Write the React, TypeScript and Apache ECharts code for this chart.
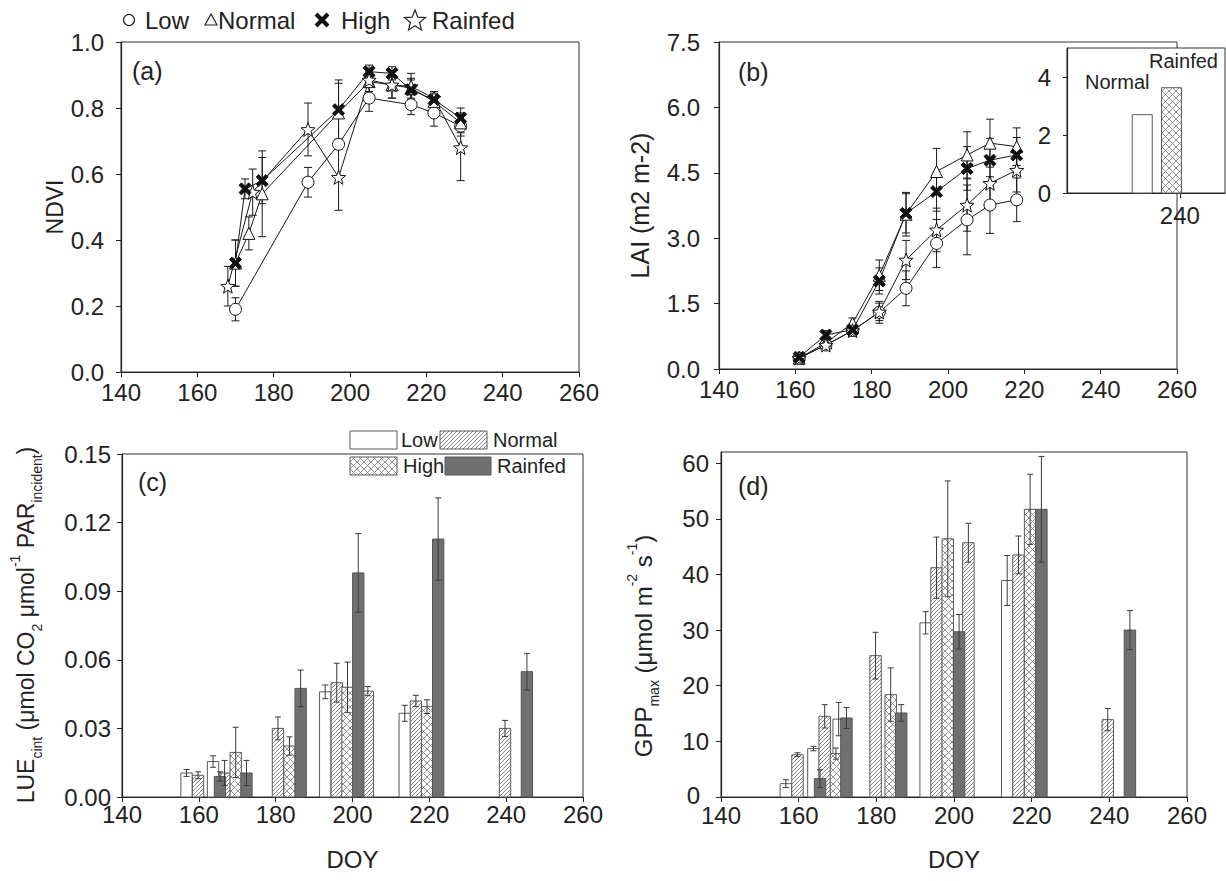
import React, { useEffect, useRef } from "react";
import * as echarts from "echarts";

const FONT = "'Liberation Sans', Arial, Helvetica, sans-serif";

// ---------- Panel (a) NDVI ----------
const ndviLowDoy = [170, 189, 197, 205, 216, 222, 229];
const ndviLow = [0.19, 0.575, 0.69, 0.83, 0.81, 0.785, 0.745];
const ndviLowErr = [0.035, 0.045, 0.015, 0.04, 0.03, 0.04, 0.03];
const ndviNormalDoy = [170, 173.5, 177, 197, 205, 211, 216, 222, 229];
const ndviNormal = [0.33, 0.42, 0.54, 0.785, 0.88, 0.87, 0.86, 0.82, 0.755];
const ndviNormalErr = [0.07, 0.05, 0.13, 0.09, 0.03, 0.04, 0.03, 0.02, 0.03];
const ndviHighDoy = [170, 172.5, 177, 197, 205, 211, 216, 222, 229];
const ndviHigh = [0.33, 0.555, 0.58, 0.795, 0.91, 0.905, 0.855, 0.825, 0.77];
const ndviHighErr = [0.07, 0.03, 0.07, 0.09, 0.02, 0.02, 0.03, 0.02, 0.03];
const ndviRainDoy = [168, 174.5, 189, 197, 205, 211, 216, 222, 229];
const ndviRain = [0.26, 0.545, 0.735, 0.59, 0.885, 0.87, 0.865, 0.83, 0.68];
const ndviRainErr = [0.06, 0.07, 0.08, 0.1, 0.02, 0.04, 0.04, 0.02, 0.1];

// ---------- Panel (b) LAI ----------
const laiDoy = [161, 168, 175, 182, 189, 197, 205, 211, 218];
const laiLow = [0.25, 0.55, 0.88, 1.3, 1.85, 2.88, 3.42, 3.76, 3.88];
const laiLowErr = [0.05, 0.08, 0.1, 0.25, 0.4, 0.55, 0.8, 0.65, 0.5];
const laiNormal = [0.25, 0.6, 1.05, 2.15, 3.55, 4.53, 4.91, 5.18, 5.1];
const laiNormalErr = [0.05, 0.1, 0.12, 0.35, 0.5, 0.53, 0.53, 0.55, 0.43];
const laiHigh = [0.27, 0.78, 0.9, 2.02, 3.57, 4.07, 4.6, 4.79, 4.91];
const laiHighErr = [0.05, 0.1, 0.1, 0.3, 0.45, 0.45, 0.5, 0.5, 0.4];
const laiRain = [0.25, 0.55, 0.88, 1.31, 2.5, 3.19, 3.76, 4.26, 4.56];
const laiRainErr = [0.05, 0.08, 0.1, 0.2, 0.45, 0.5, 0.6, 0.55, 0.5];

// inset of (b)
const insetNames = ["Normal", "Rainfed"];
const insetDoy = [235.0, 238.9];
const insetLai = [2.7, 3.63];

// ---------- Panel (c) LUE ----------
const lueLowDoy = [156.8, 163.7, 192.9, 213.6];
const lueLow = [0.0105, 0.0155, 0.046, 0.0366];
const lueLowErr = [0.0015, 0.0025, 0.003, 0.0035];
const lueNormalDoy = [159.8, 166.7, 180.6, 195.9, 204.0, 216.5, 239.7];
const lueNormal = [0.0095, 0.0105, 0.03, 0.05, 0.0463, 0.042, 0.03];
const lueNormalErr = [0.0015, 0.0055, 0.005, 0.0085, 0.002, 0.0025, 0.0035];
const lueHighDoy = [169.6, 183.6, 198.7, 219.4];
const lueHigh = [0.0195, 0.0223, 0.048, 0.0395];
const lueHighErr = [0.011, 0.004, 0.011, 0.003];
const lueRainDoy = [165.5, 172.4, 186.5, 201.5, 222.3, 245.4];
const lueRain = [0.009, 0.0105, 0.0475, 0.098, 0.1128, 0.0548];
const lueRainErr = [0.002, 0.0055, 0.008, 0.0172, 0.018, 0.008];

// ---------- Panel (d) GPPmax ----------
const gppLowDoy = [156.7, 163.8, 170.3, 192.7, 213.7];
const gppLow = [2.4, 8.7, 14.0, 31.3, 38.9];
const gppLowErr = [0.7, 0.4, 3.0, 2.0, 4.5];
const gppNormalDoy = [159.7, 166.7, 179.8, 195.5, 203.7, 216.6, 239.6];
const gppNormal = [7.6, 14.5, 25.4, 41.2, 45.7, 43.5, 13.9];
const gppNormalErr = [0.35, 2.1, 4.2, 5.5, 3.5, 3.4, 2.0];
const gppHighDoy = [169.6, 183.7, 198.4, 219.6];
const gppHigh = [7.8, 18.4, 46.4, 51.7];
const gppHighErr = [1.0, 4.8, 10.4, 6.3];
const gppRainDoy = [165.5, 172.3, 186.4, 201.3, 222.5, 245.3];
const gppRain = [3.3, 14.2, 15.1, 29.7, 51.7, 30.0];
const gppRainErr = [1.6, 1.9, 1.5, 3.1, 9.5, 3.5];

const doyTicks = [140, 160, 180, 200, 220, 240, 260];
const gppTicks = [0, 10, 20, 30, 40, 50, 60];
const insetTicks = [0, 2, 4];

const SYM_X =
  "path://M2,0 L5,3 L8,0 L10,2 L7,5 L10,8 L8,10 L5,7 L2,10 L0,8 L3,5 L0,2 Z";
const SYM_STAR =
  "path://M10,0 L12.47,6.6 L19.51,6.91 L13.99,11.3 L15.88,18.09 L10,14.2 L4.12,18.09 L6.01,11.3 L0.49,6.91 L7.53,6.6 Z";

function hatchLines(x0: number, y0: number, x1: number, y1: number, s: number, dir: number, color: string, lw: number) {
  const out: any[] = [];
  if (dir > 0) {
    const cStart = Math.ceil((x0 + y0) / s) * s;
    for (let c = cStart; c <= x1 + y1; c += s) {
      const xa = Math.max(x0, c - y1);
      const xb = Math.min(x1, c - y0);
      if (xb > xa)
        out.push({ type: "line", silent: true, shape: { x1: xa, y1: c - xa, x2: xb, y2: c - xb }, style: { stroke: color, lineWidth: lw } });
    }
  } else {
    const cStart = Math.ceil((x0 - y1) / s) * s;
    for (let c = cStart; c <= x1 - y0; c += s) {
      const xa = Math.max(x0, c + y0);
      const xb = Math.min(x1, c + y1);
      if (xb > xa)
        out.push({ type: "line", silent: true, shape: { x1: xa, y1: xa - c, x2: xb, y2: xb - c }, style: { stroke: color, lineWidth: lw } });
    }
  }
  return out;
}

function barShape(x0: number, y0: number, x1: number, y1: number, kind: string) {
  const children: any[] = [];
  const fill = kind === "rain" ? "#707070" : "#ffffff";
  children.push({ type: "rect", shape: { x: x0, y: y0, width: x1 - x0, height: y1 - y0 }, style: { fill, stroke: "none" } });
  if (kind === "normal") children.push(...hatchLines(x0, y0, x1, y1, 4, 1, "#6a6a6a", 0.8));
  if (kind === "high") {
    children.push(...hatchLines(x0, y0, x1, y1, 7, 1, "#777", 0.8));
    children.push(...hatchLines(x0, y0, x1, y1, 7, -1, "#777", 0.8));
  }
  children.push({
    type: "rect",
    shape: { x: x0, y: y0, width: x1 - x0, height: y1 - y0 },
    style: { fill: "none", stroke: kind === "rain" ? "#555" : "#5a5a5a", lineWidth: 1 },
  });
  return { type: "group", children };
}

function barSeries(gi: number, xs: number[], vs: number[], kind: string, w: number) {
  return {
    type: "custom",
    xAxisIndex: gi,
    yAxisIndex: gi,
    z: 2,
    encode: { x: 0, y: 1 },
    data: xs.map((x, i) => [x, vs[i]]),
    renderItem: (_p: any, api: any) => {
      const x = api.value(0);
      const v = api.value(1);
      const a = api.coord([x - w / 2, v]);
      const b = api.coord([x + w / 2, 0]);
      return barShape(a[0], a[1], b[0], b[1], kind);
    },
  };
}

function errSeries(gi: number, xs: number[], vs: number[], es: number[], cap: number, color: string, z: number) {
  return {
    type: "custom",
    xAxisIndex: gi,
    yAxisIndex: gi,
    z,
    encode: { x: 0, y: 1 },
    data: xs.map((x, i) => [x, vs[i], es[i]]),
    renderItem: (_p: any, api: any) => {
      const x = api.value(0);
      const y = api.value(1);
      const e = api.value(2);
      const t = api.coord([x, y + e]);
      const b = api.coord([x, y - e]);
      const st = { stroke: color, lineWidth: 1 };
      return {
        type: "group",
        children: [
          { type: "line", shape: { x1: t[0], y1: t[1], x2: b[0], y2: b[1] }, style: st },
          { type: "line", shape: { x1: t[0] - cap, y1: t[1], x2: t[0] + cap, y2: t[1] }, style: st },
          { type: "line", shape: { x1: b[0] - cap, y1: b[1], x2: b[0] + cap, y2: b[1] }, style: st },
        ],
      };
    },
  };
}

function lineSeries(gi: number, name: string, xs: number[], ys: number[], symbol: string, size: number, filled: boolean) {
  return {
    type: "line",
    name,
    xAxisIndex: gi,
    yAxisIndex: gi,
    z: 4,
    data: xs.map((x, i) => [x, ys[i]]),
    symbol,
    symbolSize: size,
    showSymbol: true,
    lineStyle: { color: "#1a1a1a", width: 1 },
    itemStyle: { color: filled ? "#111" : "#fff", borderColor: "#111", borderWidth: 1 },
  };
}

const labelStyle = { fontSize: 24, color: "#222", fontFamily: FONT };

function xAxisCfg(gi: number, margin: number, name?: string, lineHeight?: number) {
  return {
    type: "value",
    gridIndex: gi,
    min: 140,
    max: 260,
    interval: 20,
    name: name || "",
    nameLocation: "middle",
    nameGap: 50,
    nameTextStyle: { fontSize: 24, color: "#222", fontFamily: FONT },
    axisLine: { show: true, onZero: false, lineStyle: { color: "#222", width: 1.2 } },
    axisTick: { show: true, inside: false, length: 5, lineStyle: { color: "#222" } },
    axisLabel: lineHeight
      ? { ...labelStyle, margin, customValues: doyTicks, lineHeight }
      : { ...labelStyle, margin, customValues: doyTicks },
    splitLine: { show: false },
  };
}

function yAxisCfg(gi: number, min: number, max: number, interval: number, digits: number, margin: number, name?: string, nameGap?: number, nameSize?: number) {
  return {
    type: "value",
    gridIndex: gi,
    min,
    max,
    interval,
    name: name || "",
    nameLocation: "middle",
    nameGap: nameGap || 40,
    nameTextStyle: { fontSize: nameSize || 23, color: "#222", fontFamily: FONT },
    axisLine: { show: true, onZero: false, lineStyle: { color: "#222", width: 1.2 } },
    axisTick: { show: true, inside: false, length: 5, lineStyle: { color: "#222" } },
    axisLabel: { ...labelStyle, margin, formatter: (v: number) => v.toFixed(digits) },
    splitLine: { show: false },
  };
}

function buildOption() {
  const gridBase = { show: true, borderColor: "#333", borderWidth: 1, backgroundColor: "transparent", containLabel: false };
  const grids = [
    { ...gridBase, left: 121, top: 42, width: 458, height: 330 },
    { ...gridBase, left: 719, top: 42, width: 458, height: 327 },
    { ...gridBase, left: 122, top: 454, width: 461, height: 343 },
    { ...gridBase, left: 721, top: 452, width: 466, height: 345 },
    { ...gridBase, left: 1067, top: 48, width: 158, height: 145, backgroundColor: "#ffffff" },
  ];

  const yC: any = yAxisCfg(2, 0, 0.15, 0.03, 2, 11);
  yC.axisLabel = { ...yC.axisLabel, lineHeight: 12 };

  const yD: any = yAxisCfg(3, 0, 62, 10, 0, 12);
  yD.axisLabel = {
    ...labelStyle,
    margin: 12,
    lineHeight: 12,
    showMaxLabel: false,
    formatter: (v: number) => (v === 0 ? "{z|0}" : String(Math.round(v))),
    rich: { z: { fontSize: 24, color: "#222", fontFamily: FONT, padding: [0, 9, 4, 0] } },
  };
  yD.axisTick = { show: true, inside: false, length: 5, lineStyle: { color: "#222" }, customValues: gppTicks };

  const xInset = {
    type: "value",
    gridIndex: 4,
    min: 225,
    max: 246,
    axisLine: { show: true, onZero: false, lineStyle: { color: "#222", width: 1.2 } },
    axisTick: { show: true, inside: false, length: 5, lineStyle: { color: "#222" }, customValues: [240] },
    axisLabel: { ...labelStyle, margin: 10, customValues: [240] },
    splitLine: { show: false },
  };
  const yInset = {
    type: "value",
    gridIndex: 4,
    min: 0,
    max: 5,
    axisLine: { show: true, onZero: false, lineStyle: { color: "#222", width: 1.2 } },
    axisTick: { show: true, inside: false, length: 4, lineStyle: { color: "#222" }, customValues: insetTicks },
    axisLabel: { ...labelStyle, margin: 16, customValues: insetTicks },
    splitLine: { show: false },
  };

  const errColA = "#1a1a1a";
  const errColBar = "#3a3a3a";
  const series: any[] = [
    // (a)
    errSeries(0, ndviLowDoy, ndviLow, ndviLowErr, 4, errColA, 2),
    errSeries(0, ndviNormalDoy, ndviNormal, ndviNormalErr, 4, errColA, 2),
    errSeries(0, ndviHighDoy, ndviHigh, ndviHighErr, 4, errColA, 2),
    errSeries(0, ndviRainDoy, ndviRain, ndviRainErr, 4, errColA, 2),
    lineSeries(0, "Low", ndviLowDoy, ndviLow, "circle", 12, false),
    lineSeries(0, "Normal", ndviNormalDoy, ndviNormal, "triangle", 12, false),
    lineSeries(0, "Rainfed", ndviRainDoy, ndviRain, SYM_STAR, 14, false),
    lineSeries(0, "High", ndviHighDoy, ndviHigh, SYM_X, 12, true),
    // (b)
    errSeries(1, laiDoy, laiLow, laiLowErr, 4, errColA, 2),
    errSeries(1, laiDoy, laiNormal, laiNormalErr, 4, errColA, 2),
    errSeries(1, laiDoy, laiHigh, laiHighErr, 4, errColA, 2),
    errSeries(1, laiDoy, laiRain, laiRainErr, 4, errColA, 2),
    lineSeries(1, "Low", laiDoy, laiLow, "circle", 12, false),
    lineSeries(1, "Normal", laiDoy, laiNormal, "triangle", 12, false),
    lineSeries(1, "Rainfed", laiDoy, laiRain, SYM_STAR, 14, false),
    lineSeries(1, "High", laiDoy, laiHigh, SYM_X, 12, true),
    // inset
    barSeries(4, [insetDoy[0]], [insetLai[0]], "low", 2.66),
    barSeries(4, [insetDoy[1]], [insetLai[1]], "high", 2.66),
    // (c)
    barSeries(2, lueLowDoy, lueLow, "low", 2.95),
    barSeries(2, lueNormalDoy, lueNormal, "normal", 2.95),
    barSeries(2, lueHighDoy, lueHigh, "high", 2.95),
    barSeries(2, lueRainDoy, lueRain, "rain", 2.95),
    errSeries(2, lueLowDoy, lueLow, lueLowErr, 3, errColBar, 3),
    errSeries(2, lueNormalDoy, lueNormal, lueNormalErr, 3, errColBar, 3),
    errSeries(2, lueHighDoy, lueHigh, lueHighErr, 3, errColBar, 3),
    errSeries(2, lueRainDoy, lueRain, lueRainErr, 3, errColBar, 3),
    // (d)
    barSeries(3, gppLowDoy, gppLow, "low", 2.95),
    barSeries(3, gppNormalDoy, gppNormal, "normal", 2.95),
    barSeries(3, gppHighDoy, gppHigh, "high", 2.95),
    barSeries(3, gppRainDoy, gppRain, "rain", 2.95),
    errSeries(3, gppLowDoy, gppLow, gppLowErr, 3, errColBar, 3),
    errSeries(3, gppNormalDoy, gppNormal, gppNormalErr, 3, errColBar, 3),
    errSeries(3, gppHighDoy, gppHigh, gppHighErr, 3, errColBar, 3),
    errSeries(3, gppRainDoy, gppRain, gppRainErr, 3, errColBar, 3),
  ];

  const txt = (x: number, y: number, text: string, size: number, align = "left") => ({
    type: "text",
    x,
    y,
    z: 10,
    style: { text, fill: "#222", fontSize: size, fontFamily: FONT, align, verticalAlign: "middle" },
  });

  const starPts = (cx: number, cy: number, R: number, r: number) => {
    const pts: number[][] = [];
    for (let k = 0; k < 10; k++) {
      const ang = -Math.PI / 2 + (k * Math.PI) / 5;
      const rad = k % 2 === 0 ? R : r;
      pts.push([cx + rad * Math.cos(ang), cy + rad * Math.sin(ang)]);
    }
    return pts;
  };

  const rich = (big: number, small: number) => ({
    b: { fontSize: big, fontFamily: FONT, fill: "#222", lineHeight: 36, verticalAlign: "middle" },
    s: { fontSize: small, fontFamily: FONT, fill: "#222", lineHeight: 14, verticalAlign: "bottom" },
    u: { fontSize: small, fontFamily: FONT, fill: "#222", lineHeight: 14, verticalAlign: "top" },
  });

  const graphic: any[] = [
    // top legend
    { type: "circle", z: 10, shape: { cx: 129, cy: 20, r: 5.5 }, style: { fill: "#fff", stroke: "#222", lineWidth: 1.2 } },
    txt(145, 20, "Low", 24),
    { type: "polygon", z: 10, shape: { points: [[205, 25], [217, 25], [211, 14]] }, style: { fill: "#fff", stroke: "#222", lineWidth: 1.2 } },
    txt(218, 20, "Normal", 24),
    { type: "line", z: 10, shape: { x1: 316, y1: 14, x2: 328, y2: 26 }, style: { stroke: "#111", lineWidth: 4 } },
    { type: "line", z: 10, shape: { x1: 316, y1: 26, x2: 328, y2: 14 }, style: { stroke: "#111", lineWidth: 4 } },
    txt(341, 20, "High", 24),
    { type: "polygon", z: 10, shape: { points: starPts(415, 21, 11, 4.8) }, style: { fill: "#fff", stroke: "#222", lineWidth: 1.2 } },
    txt(432, 20, "Rainfed", 24),
    // panel labels
    txt(132, 71, "(a)", 25),
    txt(738, 72, "(b)", 25),
    txt(138, 482, "(c)", 25),
    txt(738, 486, "(d)", 25),
    // inset labels
    txt(1085, 82, insetNames[0], 20),
    txt(1149, 61, insetNames[1], 20),
    // (c) legend
    { ...barShape(350, 431, 397, 449, "low"), z: 10 },
    txt(401, 440, "Low", 20),
    { ...barShape(440, 431, 487, 449, "normal"), z: 10 },
    txt(493, 440, "Normal", 20),
    { ...barShape(350, 457, 397, 475, "high"), z: 10 },
    txt(403, 466, "High", 20),
    { ...barShape(445, 457, 491, 475, "rain"), z: 10 },
    txt(497, 466, "Rainfed", 20),
    // y titles with sub/superscripts
    {
      type: "text",
      x: 26,
      y: 625,
      rotation: Math.PI / 2,
      z: 10,
      style: {
        text: "{b|LUE}{s|cint}{b| (μmol CO}{s|2}{b| μmol}{u|-1}{b| PAR}{s|incident}{b|)}",
        rich: rich(23, 14),
        align: "center",
        verticalAlign: "middle",
        fontSize: 23,
        fontFamily: FONT,
        fill: "#222",
      },
    },
    {
      type: "text",
      x: 643,
      y: 646,
      rotation: Math.PI / 2,
      z: 10,
      style: {
        text: "{b|GPP}{s|max}{b| (μmol m}{u|-2}{b| s}{u|-1}{b|)}",
        rich: rich(24, 14),
        align: "center",
        verticalAlign: "middle",
        fontSize: 24,
        fontFamily: FONT,
        fill: "#222",
      },
    },
  ];

  return {
    animation: false,
    backgroundColor: "#ffffff",
    textStyle: { fontFamily: FONT },
    grid: grids,
    xAxis: [xAxisCfg(0, 8), xAxisCfg(1, 8), xAxisCfg(2, 8, "DOY", 18), xAxisCfg(3, 9, "DOY", 18), xInset],
    yAxis: [
      yAxisCfg(0, 0, 1, 0.2, 1, 17, "NDVI", 33),
      yAxisCfg(1, 0, 7.5, 1.5, 1, 19, "LAI (m2 m-2)", 67, 25),
      yC,
      yD,
      yInset,
    ],
    series,
    graphic,
  };
}

export default function App() {
  const ref = useRef<HTMLDivElement>(null);
  useEffect(() => {
    const chart = echarts.init(ref.current as HTMLDivElement, null, { renderer: "svg" });
    chart.setOption(buildOption() as any);
    return () => chart.dispose();
  }, []);
  return (
    <div
      ref={ref}
      style={{ position: "absolute", left: 0, top: 0, width: 1226, height: 881, background: "#fff" }}
    />
  );
}
